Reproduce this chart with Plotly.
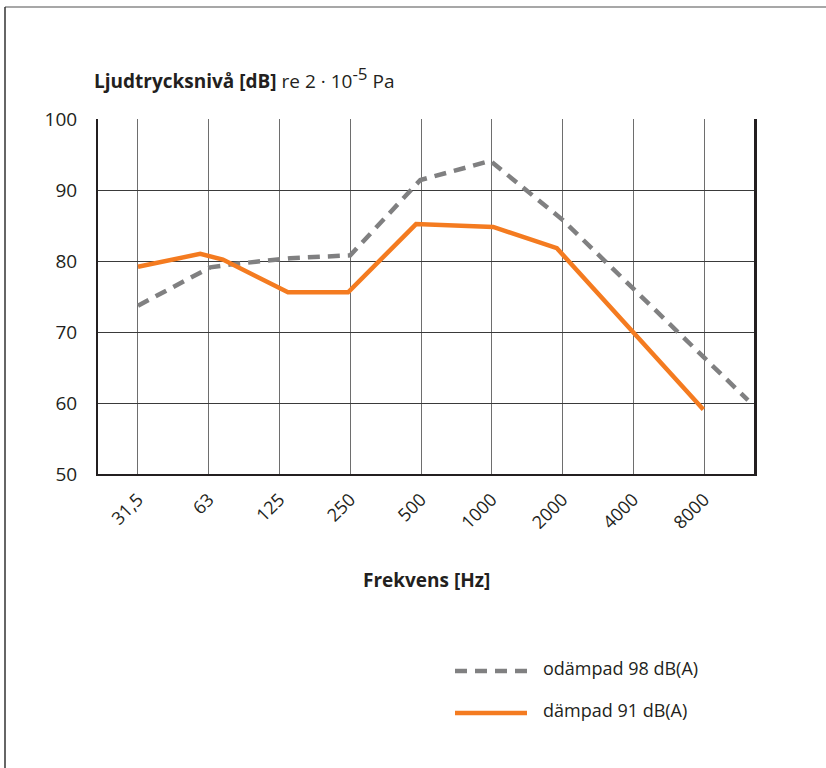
import plotly.graph_objects as go

# Octave-band centre frequencies (category axis)
categories = ["31,5", "63", "125", "250", "500", "1000", "2000", "4000", "8000"]
y_ticks = [50, 60, 70, 80, 90, 100]

# Undamped curve: position in band units, level in dB
undamped_pos = [0.0, 1.02, 1.30, 2.15, 3.0, 3.99, 4.98, 6.0, 8.62]
undamped_db = [73.7, 79.1, 79.5, 80.4, 80.8, 91.4, 94.1, 85.8, 60.4]

# Damped curve
damped_pos = [0.0, 0.88, 1.20, 2.12, 2.97, 3.93, 5.02, 5.92, 7.99]
damped_db = [79.2, 81.0, 80.2, 75.6, 75.6, 85.2, 84.8, 81.8, 59.1]

undamped_label = "odämpad 98 dB(A)"
damped_label = "dämpad 91 dB(A)"

GRAY = "#808081"
ORANGE = "#F47B20"
FONT = "Open Sans"

W, H = 826, 768
L, R, T, B = 98, 755, 119, 474  # plot area in pixels


def px(x):
    return (x - L) / (R - L)


def py(y):
    return (B - y) / (B - T)


fig = go.Figure()
fig.add_trace(go.Scatter(
    x=undamped_pos, y=undamped_db, mode="lines", name=undamped_label,
    line=dict(color=GRAY, width=4.5, dash="12px,8px"), showlegend=False,
))
fig.add_trace(go.Scatter(
    x=damped_pos, y=damped_db, mode="lines", name=damped_label,
    line=dict(color=ORANGE, width=4.5), showlegend=False,
))

fig.update_layout(
    width=W, height=H,
    margin=dict(l=L, r=W - R, t=T, b=H - B, pad=0),
    paper_bgcolor="white", plot_bgcolor="white",
    font=dict(family=FONT, color="#231f20", size=16),
    xaxis=dict(
        range=[-0.565, 8.72], tickmode="array",
        tickvals=list(range(len(categories))), ticktext=categories,
        tickangle=-45, tickfont=dict(size=18),
        showgrid=True, gridcolor="#6e6e6e", gridwidth=1,
        zeroline=False, showline=True, linecolor="#231f20", linewidth=2,
        ticks="", ticklabelstandoff=6,
    ),
    yaxis=dict(
        range=[50, 100], tickmode="array", tickvals=y_ticks,
        tickfont=dict(size=19),
        showgrid=True, gridcolor="#3a3a3a", gridwidth=1,
        zeroline=False, showline=True, mirror=True,
        linecolor="#231f20", linewidth=2,
        ticks="", ticklabelstandoff=15,
    ),
    showlegend=False,
)

# Right border of the plot area
fig.add_shape(type="line", xref="paper", yref="paper", x0=1, x1=1, y0=0, y1=1,
              line=dict(color="#231f20", width=2))

# Outer frame (top and left edges)
fig.add_shape(type="line", xref="paper", yref="paper",
              x0=px(5), x1=px(830), y0=py(7), y1=py(7),
              line=dict(color="#8a8a8a", width=1.5))
fig.add_shape(type="line", xref="paper", yref="paper",
              x0=px(5), x1=px(5), y0=py(7), y1=py(770),
              line=dict(color="#333333", width=1.5))

# Axis titles
fig.add_annotation(
    xref="paper", yref="paper", x=px(92), y=py(78), xanchor="left", yanchor="middle",
    text=("<b>Ljudtrycksnivå [dB]</b> re 2 · 10"
          "<sup><span style='font-size:17px'>-5</span></sup> Pa"),
    showarrow=False, font=dict(size=19),
)
fig.add_annotation(
    xref="paper", yref="paper", x=0.5, y=py(580), xanchor="center", yanchor="middle",
    text="<b>Frekvens [Hz]</b>", showarrow=False, font=dict(size=19),
)

# Legend
fig.add_shape(type="line", xref="paper", yref="paper",
              x0=px(455), x1=px(527), y0=py(671), y1=py(671),
              line=dict(color=GRAY, width=4.5, dash="12px,8px"))
fig.add_shape(type="line", xref="paper", yref="paper",
              x0=px(455), x1=px(527), y0=py(713), y1=py(713),
              line=dict(color=ORANGE, width=4.5))
fig.add_annotation(xref="paper", yref="paper", x=px(541), y=py(668),
                   xanchor="left", yanchor="middle", text=undamped_label,
                   showarrow=False, font=dict(size=18))
fig.add_annotation(xref="paper", yref="paper", x=px(541), y=py(710),
                   xanchor="left", yanchor="middle", text=damped_label,
                   showarrow=False, font=dict(size=18))

fig.write_html("out.html")
